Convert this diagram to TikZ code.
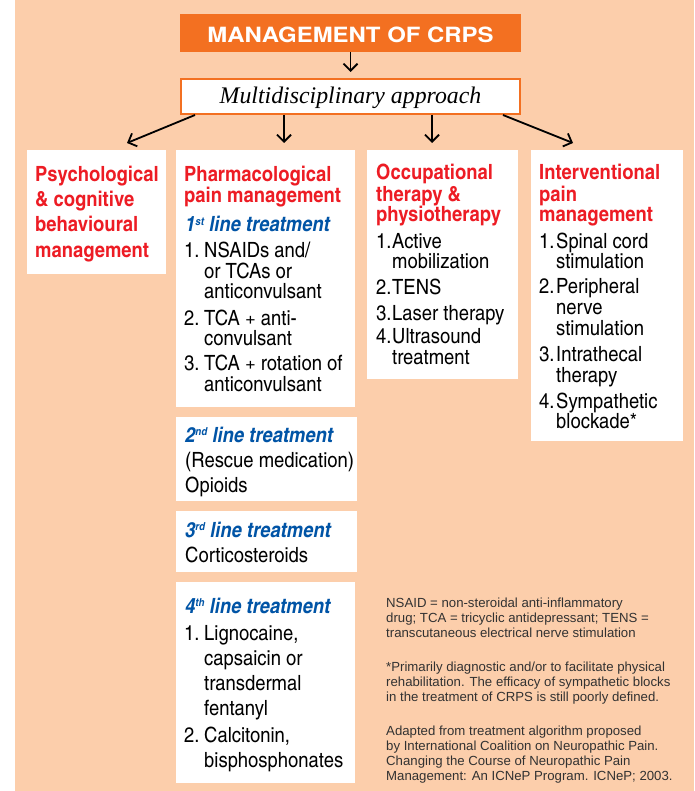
\documentclass[tikz,border=0pt]{standalone}
\usepackage{fontspec}
\setmainfont{Liberation Sans}
\newfontfamily\cnreg{texgyreheroscn-regular.otf}[FakeStretch=1.07]
\newfontfamily\cnbold{texgyreheroscn-bold.otf}[FakeStretch=1.07]
\newfontfamily\cnbi{texgyreheroscn-bolditalic.otf}[FakeStretch=1.07]
\newfontfamily\herb{texgyreheros-bold.otf}[FakeStretch=1.14]
\newfontfamily\tms{Liberation Serif}
\usetikzlibrary{arrows.meta,calc}
\definecolor{peach}{RGB}{252,206,171}
\definecolor{crpsorange}{RGB}{243,112,33}
\definecolor{hdred}{RGB}{237,28,36}
\definecolor{lnblue}{RGB}{0,84,166}
\definecolor{fntgray}{RGB}{50,50,50}
\newcommand\sups[1]{\raisebox{0.6ex}{\fontsize{11}{11}\selectfont #1}}
\tikzset{
  whitebox/.style={fill=white, draw=none, inner sep=0pt, outer sep=0pt, anchor=north west},
  hd/.style={anchor=base west, inner sep=0pt, text=hdred, font=\cnbold\fontsize{21}{22}\selectfont},
  bd/.style={anchor=base west, inner sep=0pt, text=black, font=\cnreg\fontsize{21}{22}\selectfont},
  lnt/.style={anchor=base west, inner sep=0pt, text=lnblue, font=\cnbi\fontsize{21}{22}\selectfont},
  ft/.style={anchor=base west, inner sep=0pt, text=fntgray, font=\fontsize{13.2}{15}\selectfont},
  arr/.style={-{Straight Barb[length=7pt,width=14pt]}, line width=1.8pt, black}
}
\begin{document}
\begin{tikzpicture}[x=1pt,y=-1pt]
\useasboundingbox (0,0) rectangle (694,791);
\fill[white] (0,0) rectangle (694,791);
\fill[peach] (15,0) rectangle (694,791);

% title
\node[fill=crpsorange, minimum width=341pt, minimum height=38pt, anchor=north west, inner sep=0pt, outer sep=0pt,
      text=white, font=\herb\fontsize{21}{21}\selectfont, text height=20pt, text depth=0pt] (title) at (180,14) {MANAGEMENT OF CRPS};
\node[draw=crpsorange, line width=2pt, fill=white, minimum width=339pt, minimum height=35pt, anchor=north west, inner sep=0pt,
      font=\tms\itshape\fontsize{23.8}{24}\selectfont, text height=17pt, text depth=2pt] (md) at (180,78) {Multidisciplinary approach};

% boxes
\node[whitebox, minimum width=139pt, minimum height=124pt] (b1) at (27,150) {};
\node[whitebox, minimum width=179pt, minimum height=257pt] (b2) at (176,150) {};
\node[whitebox, minimum width=151pt, minimum height=229pt] (b3) at (367,150) {};
\node[whitebox, minimum width=152pt, minimum height=291pt] (b4) at (531,150) {};
\node[whitebox, minimum width=181pt, minimum height=84pt] (b5) at (176,417) {};
\node[whitebox, minimum width=181pt, minimum height=61pt] (b6) at (176,511) {};
\node[whitebox, minimum width=179pt, minimum height=201pt] (b7) at (176,582) {};

% arrows
\draw[arr] (title.south) -- ([yshift=6pt]md.north);
\draw[arr] ([xshift=15pt]md.south west) -- ([xshift=100pt,yshift=7pt]b1.north west);
\draw[arr] ([xshift=104pt]md.south west) -- ([xshift=108pt,yshift=7pt]b2.north west);
\draw[arr] ([xshift=252pt]md.south west) -- ([xshift=65pt,yshift=7pt]b3.north west);
\draw[arr] ([xshift=323pt]md.south west) -- ([xshift=42pt,yshift=7pt]b4.north west);

% box 1
\node[hd] (p1) at (35,182) {Psychological};
\node[hd] (p2) at (35,207) {\& cognitive};
\node[hd] (p3) at (35,232) {behavioural};
\node[hd] (p4) at (35,258) {management};

% box 2
\node[hd] (f1) at (184,182) {Pharmacological};
\node[hd] (f2) at (184,203) {pain management};
\node[lnt] (f3) at (185,232) {1\sups{st} line treatment};
\node[bd] (f4n) at (184,258) {1.};
\node[bd] (f4) at (204,258) {NSAIDs and/};
\node[bd] (f5) at (204,278) {or TCAs or};
\node[bd] (f6) at (204,298) {anticonvulsant};
\node[bd] (f7n) at (184,325) {2.};
\node[bd] (f7) at (204,325) {TCA + anti-};
\node[bd] (f8) at (204,345) {convulsant};
\node[bd] (f9n) at (184,370) {3.};
\node[bd] (f9) at (204,370) {TCA + rotation of};
\node[bd] (f10) at (204,391) {anticonvulsant};

% box 3
\node[hd] (o1) at (376,180) {Occupational};
\node[hd] (o2) at (376,202) {therapy \&};
\node[hd] (o3) at (376,222) {physiotherapy};
\node[bd] (o4n) at (376,248) {1.};
\node[bd] (o4) at (392,248) {Active};
\node[bd] (o5) at (392,269) {mobilization};
\node[bd] (o6n) at (376,294) {2.};
\node[bd] (o6) at (392,294) {TENS};
\node[bd] (o7n) at (376,320) {3.};
\node[bd] (o7) at (392,320) {Laser therapy};
\node[bd] (o8n) at (376,343) {4.};
\node[bd] (o8) at (392,343) {Ultrasound};
\node[bd] (o9) at (392,364) {treatment};

% box 4
\node[hd] (i1) at (539,180) {Interventional};
\node[hd] (i2) at (539,202) {pain};
\node[hd] (i3) at (539,222) {management};
\node[bd] (i4n) at (539,248) {1.};
\node[bd] (i4) at (556,248) {Spinal cord};
\node[bd] (i5) at (556,269) {stimulation};
\node[bd] (i6n) at (539,293) {2.};
\node[bd] (i6) at (556,293) {Peripheral};
\node[bd] (i7) at (556,314) {nerve};
\node[bd] (i8) at (556,335) {stimulation};
\node[bd] (i9n) at (539,361) {3.};
\node[bd] (i9) at (556,361) {Intrathecal};
\node[bd] (i10) at (556,382) {therapy};
\node[bd] (i11n) at (539,408) {4.};
\node[bd] (i11) at (556,408) {Sympathetic};
\node[bd] (i12) at (556,428) {blockade*};

% box 5
\node[lnt] (s1) at (185,442) {2\sups{nd} line treatment};
\node[bd] (s2) at (185,467) {(Rescue medication)};
\node[bd] (s3) at (185,492) {Opioids};

% box 6
\node[lnt] (t1) at (185,537) {3\sups{rd} line treatment};
\node[bd] (t2) at (185,562) {Corticosteroids};

% box 7
\node[lnt] (q1) at (185,613) {4\sups{th} line treatment};
\node[bd] (q2n) at (184,640) {1.};
\node[bd] (q2) at (204,640) {Lignocaine,};
\node[bd] (q3) at (204,665) {capsaicin or};
\node[bd] (q4) at (204,690) {transdermal};
\node[bd] (q5) at (204,715) {fentanyl};
\node[bd] (q6n) at (184,742) {2.};
\node[bd] (q6) at (204,742) {Calcitonin,};
\node[bd] (q7) at (204,767) {bisphosphonates};

% footnotes
\node[ft] (n1) at (386,607) {NSAID = non-steroidal anti-inflammatory};
\node[ft] (n2) at (386,622) {drug; TCA = tricyclic antidepressant; TENS =};
\node[ft] (n3) at (386,637) {transcutaneous electrical nerve stimulation};
\node[ft] (n4) at (386,671) {*Primarily diagnostic and/or to facilitate physical};
\node[ft] (n5) at (386,686) {rehabilitation. The efficacy of sympathetic blocks};
\node[ft] (n6) at (386,701) {in the treatment of CRPS is still poorly defined.};
\node[ft] (n7) at (386,735) {Adapted from treatment algorithm proposed};
\node[ft] (n8) at (386,750) {by International Coalition on Neuropathic Pain.};
\node[ft] (n9) at (386,765) {Changing the Course of Neuropathic Pain};
\node[ft] (n10) at (386,780) {Management: An ICNeP Program. ICNeP; 2003.};
\end{tikzpicture}
\end{document}
